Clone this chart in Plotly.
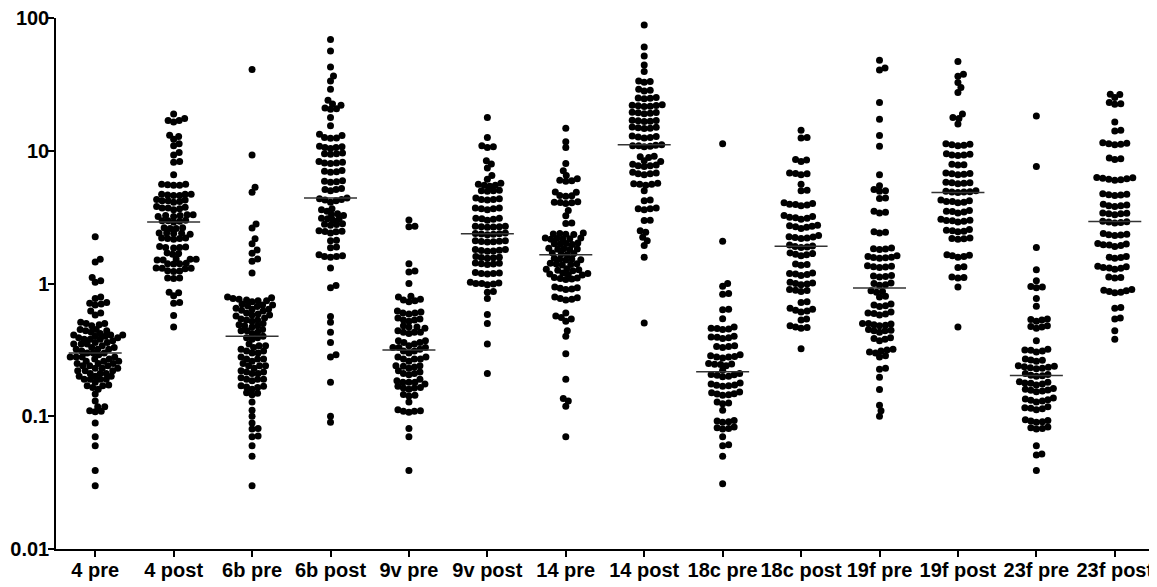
import numpy as np
import plotly.graph_objects as go

categories = ["4 pre", "4 post", "6b pre", "6b post", "9v pre", "9v post", "14 pre",
              "14 post", "18c pre", "18c post", "19f pre", "19f post", "23f pre", "23f post"]

y_tick_vals = [0.01, 0.1, 1, 10, 100]
y_tick_text = ["0.01", "0.1", "1", "10", "100"]

pre_4 = [2.25, 1.52, 1.45, 1.11, 1.05, 1.02, 0.79, 0.77, 0.72, 0.70, 0.69, 0.71, 0.62, 0.60, 0.58,
         0.50, 0.49, 0.50, 0.48, 0.51, 0.45, 0.44, 0.44, 0.43, 0.45, 0.41, 0.40, 0.41, 0.42, 0.40, 0.41,
         0.38, 0.39, 0.38, 0.37, 0.39, 0.38, 0.35, 0.36, 0.35, 0.34, 0.35, 0.36, 0.32, 0.33, 0.32, 0.33,
         0.32, 0.30, 0.30, 0.31, 0.29, 0.30, 0.28, 0.27, 0.28, 0.28, 0.27, 0.28, 0.26, 0.25, 0.26, 0.25,
         0.26, 0.25, 0.24, 0.23, 0.24, 0.24, 0.23, 0.22, 0.22, 0.23, 0.22, 0.21, 0.20, 0.21, 0.20, 0.20,
         0.21, 0.19, 0.19, 0.18, 0.19, 0.19, 0.17, 0.165, 0.172, 0.16, 0.17, 0.147, 0.13, 0.118, 0.118,
         0.109, 0.11, 0.108, 0.089, 0.07, 0.06, 0.039, 0.03]

post_4 = [18.9, 17.5, 16.9, 16.5, 16.9, 13.1, 12.2, 12.8, 10.9, 11.3, 9.7, 9.3, 8.2, 8.3, 6.6,
          5.6, 5.5, 5.55, 5.5, 5.6, 4.7, 4.6, 4.7, 4.65, 4.7, 4.6, 4.2, 4.25, 4.15, 4.2, 4.3, 4.1,
          3.7, 3.75, 3.65, 3.8, 3.6, 3.7, 3.25, 3.3, 3.2, 3.25, 3.3, 3.2, 2.97, 2.95, 3.0, 2.9, 2.97,
          2.63, 2.6, 2.6, 2.63, 2.39, 2.4, 2.35, 2.4, 2.38, 2.18, 2.2, 2.15, 2.2, 2.18,
          1.87, 1.9, 1.85, 1.87, 1.88, 1.68, 1.7, 1.66, 1.52, 1.5, 1.53, 1.52, 1.5, 1.41, 1.4, 1.42, 1.41,
          1.3, 1.31, 1.29, 1.3, 1.24, 1.23, 1.25, 1.1, 1.1, 1.09, 0.86, 0.85, 0.81, 0.71, 0.72, 0.575, 0.47]

pre_6b = [41.0, 9.3, 5.3, 4.86, 2.81, 2.62, 2.17, 1.99, 1.79, 1.69, 1.53, 1.47, 1.2,
          0.78, 0.77, 0.79, 0.74, 0.75, 0.73, 0.74, 0.76, 0.69, 0.70, 0.68, 0.69, 0.67,
          0.64, 0.63, 0.65, 0.64, 0.62, 0.58, 0.59, 0.57, 0.58, 0.60, 0.53, 0.54, 0.52, 0.53, 0.55,
          0.48, 0.49, 0.47, 0.48, 0.50, 0.44, 0.45, 0.43, 0.44, 0.42,
          0.39, 0.40, 0.38, 0.39, 0.34, 0.35, 0.33, 0.34, 0.31, 0.32, 0.30, 0.31, 0.30,
          0.27, 0.28, 0.27, 0.26, 0.27, 0.24, 0.25, 0.24, 0.23, 0.24, 0.215, 0.22, 0.21, 0.215, 0.21,
          0.19, 0.195, 0.185, 0.19, 0.19, 0.166, 0.17, 0.16, 0.165, 0.168, 0.149, 0.15, 0.145,
          0.128, 0.111, 0.10, 0.089, 0.081, 0.080, 0.07, 0.071, 0.06, 0.05, 0.03]

post_6b = [69, 56.5, 42.8, 36.6, 33.6, 29.1, 24.0, 22.0, 22.5, 20.7, 20.5, 21.0, 17.8, 15.4,
           13.3, 12.6, 12.4, 12.5, 13.0, 10.6, 10.8, 10.4, 10.6, 10.7, 9.5, 9.6, 9.4, 9.5,
           8.1, 8.2, 8.0, 8.1, 8.3, 6.95, 7.0, 6.9, 7.1, 5.85, 5.9, 5.8, 5.95, 5.1, 5.2, 5.0, 5.1,
           4.3, 4.35, 4.25, 4.2, 4.4, 4.1, 3.66, 3.6, 3.5, 3.3, 3.35, 3.25, 3.08, 3.1, 3.05, 3.0,
           2.78, 2.8, 2.75, 2.82, 2.46, 2.5, 2.45, 2.4, 2.48, 2.1, 2.12, 1.86, 1.88,
           1.6, 1.62, 1.58, 1.6, 1.65, 1.31, 0.966, 0.93,
           0.565, 0.51, 0.43, 0.36, 0.28, 0.29, 0.18, 0.09, 0.1]

pre_9v = [3.01, 2.68, 2.7, 1.41, 1.22, 1.24, 1.0, 0.80, 0.79, 0.75, 0.74, 0.76, 0.73,
          0.60, 0.61, 0.59, 0.60, 0.62, 0.53, 0.54, 0.52, 0.53, 0.55, 0.47, 0.48, 0.46, 0.47,
          0.43, 0.44, 0.42, 0.43, 0.43, 0.36, 0.37, 0.35, 0.36, 0.37, 0.33, 0.34, 0.32, 0.33, 0.33,
          0.31, 0.31, 0.30,
          0.27, 0.28, 0.27, 0.26, 0.27, 0.28, 0.238, 0.24, 0.235, 0.24, 0.23, 0.21, 0.215, 0.205, 0.21, 0.22,
          0.18, 0.185, 0.175, 0.18, 0.18, 0.19, 0.163, 0.165, 0.16, 0.163, 0.168, 0.144, 0.146, 0.142,
          0.128, 0.109, 0.11, 0.107, 0.109, 0.112, 0.081, 0.07, 0.039]

post_9v = [17.8, 12.6, 10.6, 10.7, 10.9, 8.4, 7.95, 7.4, 6.5, 6.1, 5.7, 5.5, 5.6, 5.4, 5.5,
           5.0, 5.05, 4.95, 5.0, 4.3, 4.35, 4.25, 4.3, 4.4, 3.66, 3.7, 3.6, 3.65, 3.7,
           3.08, 3.1, 3.05, 3.1, 3.0, 2.68, 2.7, 2.65, 2.7, 2.68, 2.66, 2.37, 2.4, 2.35, 2.38, 2.36, 2.33,
           2.07, 2.1, 2.05, 2.08, 2.06, 2.1, 1.77, 1.8, 1.75, 1.78, 1.76, 1.8, 1.57, 1.6, 1.55, 1.58, 1.56,
           1.41, 1.43, 1.4, 1.42, 1.39, 1.19, 1.2, 1.18, 1.21, 1.19, 1.0, 1.02, 0.99, 1.01, 0.98, 1.0,
           0.86, 0.87, 0.77, 0.585, 0.50, 0.35, 0.21]

pre_14 = [14.8, 11.7, 10.6, 8.03, 7.07, 6.5, 5.95, 6.0, 5.9, 6.15, 4.86, 4.9, 4.58, 4.6, 4.55,
          4.08, 4.1, 4.05, 4.12, 4.0, 3.54, 3.24, 2.83, 2.85,
          2.36, 2.38, 2.34, 2.4, 2.35, 2.17, 2.2, 2.15, 2.18, 2.16, 2.2, 1.99, 2.0, 1.98, 2.02, 1.97,
          1.82, 1.84, 1.8, 1.83, 1.81, 1.67, 1.7, 1.65, 1.68,
          1.52, 1.55, 1.5, 1.53, 1.51, 1.4, 1.42, 1.38, 1.41, 1.39, 1.27, 1.29, 1.25, 1.28, 1.26,
          1.18, 1.2, 1.16, 1.19, 1.17, 1.09, 1.1, 1.08, 1.11, 1.07,
          0.92, 0.93, 0.91, 0.94, 0.9, 0.77, 0.78, 0.76, 0.79, 0.75,
          0.6, 0.57, 0.555, 0.54, 0.52, 0.44, 0.40, 0.296, 0.19, 0.136, 0.13, 0.119, 0.07]

post_14 = [88.6, 60.5, 51.8, 44.3, 39.5, 33.2, 33.5, 32.8, 28.6, 29.0, 28.2, 24.9, 25.2, 24.6, 25.0,
           21.8, 22.0, 21.5, 21.9, 22.2, 21.6, 19.3, 19.5, 19.0, 19.4, 19.2, 16.8, 17.0, 16.6, 16.9, 16.7,
           14.9, 15.1, 14.7, 15.0, 14.8, 12.7, 12.9, 12.5, 12.8, 12.6, 10.9, 11.0, 10.8, 11.1, 10.7, 10.9,
           9.0, 9.1, 8.9, 8.3, 8.4, 7.7, 7.8, 7.6, 7.7, 7.9, 6.7, 6.8, 6.6, 6.7, 6.9, 5.6, 5.7, 5.5, 5.6, 5.65,
           5.0, 4.2, 4.25, 3.66, 3.7, 3.6, 3.65, 2.98, 3.0, 2.43, 2.5, 2.23, 2.1, 1.93, 1.58, 0.503]

pre_18c = [11.3, 2.08, 1.0, 0.955, 0.83, 0.84, 0.634, 0.64, 0.543,
           0.459, 0.47, 0.45, 0.46, 0.455, 0.393, 0.4, 0.39, 0.385, 0.395, 0.336, 0.34, 0.33, 0.335,
           0.282, 0.29, 0.28, 0.275, 0.285, 0.28, 0.246, 0.25, 0.24, 0.245, 0.248, 0.222,
           0.204, 0.21, 0.2, 0.205, 0.198, 0.206, 0.171, 0.175, 0.168, 0.172, 0.17, 0.178,
           0.147, 0.15, 0.145, 0.148, 0.144, 0.152, 0.126, 0.128, 0.124, 0.111,
           0.091, 0.092, 0.09, 0.093, 0.081, 0.082, 0.08, 0.083, 0.07, 0.06, 0.061, 0.05, 0.031]

post_18c = [14.3, 12.5, 12.6, 8.6, 8.3, 8.5, 6.7, 6.8, 6.6, 6.75, 5.6, 5.0, 5.05,
            3.93, 4.0, 3.9, 3.95, 3.85, 4.05, 3.13, 3.2, 3.1, 3.15, 3.05, 3.25,
            2.68, 2.7, 2.65, 2.72, 2.6, 2.75, 2.22, 2.25, 2.2, 2.3, 2.18, 2.24,
            1.9, 1.92, 1.88, 1.95, 1.87, 1.65, 1.68, 1.62, 1.66, 1.7, 1.39, 1.4, 1.37,
            1.17, 1.19, 1.15, 1.18, 1.2, 1.0, 1.02, 0.98, 1.01, 0.99, 0.886, 0.9, 0.87, 0.89,
            0.72, 0.73, 0.63, 0.64, 0.62, 0.65, 0.61, 0.53, 0.54, 0.467, 0.47, 0.46, 0.48, 0.323]

pre_19f = [48, 40.6, 42, 23.1, 17.3, 13, 10.8, 6.6, 5.46, 5.0, 5.1, 4.95, 4.36, 4.4, 3.44, 3.5, 3.4,
           2.43, 2.45, 2.4, 1.83, 1.85, 1.8, 1.82, 1.57, 1.6, 1.55, 1.58, 1.56, 1.62,
           1.34, 1.36, 1.32, 1.35, 1.33, 1.13, 1.15, 1.12, 1.14, 1.0, 0.98, 1.01, 0.97,
           0.87, 0.88, 0.86, 0.79, 0.8, 0.68, 0.69, 0.67, 0.7, 0.595, 0.6, 0.59, 0.61, 0.58,
           0.49, 0.5, 0.48, 0.495, 0.485, 0.5, 0.44, 0.45, 0.43, 0.44, 0.445, 0.38, 0.39, 0.37, 0.385,
           0.31, 0.32, 0.3, 0.315, 0.305, 0.28, 0.285, 0.226, 0.23, 0.197, 0.159, 0.121, 0.11, 0.1]

post_19f = [47, 37.7, 36.4, 32.6, 29.9, 27.5, 18.9, 17.8, 17.5, 15.9,
            11.1, 11.3, 10.9, 11.2, 11.0, 9.3, 9.4, 9.2, 9.5, 9.3, 7.85, 7.9, 7.8,
            6.7, 6.8, 6.6, 6.75, 6.65, 5.74, 5.8, 5.7, 5.75, 5.65, 4.92, 5.0, 4.85, 4.95, 4.9, 4.88,
            4.14, 4.2, 4.1, 4.15, 4.05, 4.25, 3.48, 3.5, 3.45, 3.55, 3.4, 2.97, 3.0, 2.95, 3.05, 2.9, 2.98,
            2.5, 2.55, 2.45, 2.52, 2.48, 2.17, 2.2, 2.15, 2.18, 1.62, 1.65, 1.6, 1.63, 1.58, 1.32, 1.34,
            1.11, 1.12, 1.1, 0.94, 0.47]

pre_23f = [18.3, 7.6, 1.87, 1.27, 1.05, 0.94, 0.95, 0.93, 0.77, 0.675,
           0.53, 0.54, 0.52, 0.535, 0.47, 0.48, 0.46, 0.475, 0.37, 0.314, 0.32, 0.31, 0.315, 0.305,
           0.264, 0.27, 0.26, 0.265, 0.234, 0.24, 0.23, 0.236, 0.232, 0.238, 0.228,
           0.204, 0.21, 0.2, 0.206, 0.202, 0.177, 0.18, 0.175, 0.178, 0.172, 0.182,
           0.157, 0.16, 0.155, 0.158, 0.153, 0.162, 0.132, 0.135, 0.13, 0.133, 0.128, 0.137,
           0.115, 0.118, 0.112, 0.116, 0.114, 0.092, 0.094, 0.09, 0.093, 0.091, 0.081, 0.083, 0.08, 0.082,
           0.06, 0.051, 0.052, 0.039]

post_23f = [26.7, 26.5, 25.2, 22.4, 22.6, 23.1, 16.5, 14.1, 14.3, 11.3, 11.5, 11.1, 11.4, 11.2, 8.7, 8.8, 8.6,
            6.15, 6.2, 6.1, 6.3, 6.0, 6.25, 6.05, 4.67, 4.7, 4.6, 4.75, 4.65, 3.86, 3.9, 3.8, 3.95, 3.85,
            3.36, 3.4, 3.3, 3.38, 3.35, 2.95, 2.9, 2.85, 2.92, 2.88, 2.33, 2.35, 2.3, 2.38, 2.32,
            1.96, 2.0, 1.93, 1.98, 1.95, 1.9, 1.57, 1.6, 1.55, 1.58, 1.32, 1.35, 1.3, 1.34, 1.31, 1.28,
            1.11, 1.12, 1.1, 0.87, 0.88, 0.86, 0.9, 0.85, 0.89, 0.65, 0.66, 0.54, 0.55, 0.44, 0.38]

groups = [pre_4, post_4, pre_6b, post_6b, pre_9v, post_9v, pre_14, post_14,
          pre_18c, post_18c, pre_19f, post_19f, pre_23f, post_23f]

# ---- layout geometry ----
# the page body has an 8px default margin, so the figure is drawn 8px smaller
PAGE_OFF = 8
W, H = 1157 - PAGE_OFF, 587 - PAGE_OFF
ML, MR, MT, MB = 56 - PAGE_OFF, 3, 18 - PAGE_OFF, 38
plot_w = W - ML - MR
plot_h = H - MT - MB
px_per_cat = plot_w / len(categories)
px_per_dec = plot_h / 4.0
DOT = 7
COLLIDE = 5.6


def swarm(vals):
    """Greedy beeswarm: horizontal pixel offsets so dots do not overlap too much."""
    ys = np.log10(np.asarray(vals, dtype=float)) * px_per_dec
    order = np.argsort(ys)
    placed_x, placed_y = [], []
    offs = np.zeros(len(ys))
    for i in order:
        y = ys[i]
        px = np.array(placed_x)
        py = np.array(placed_y)
        if len(py):
            near = np.abs(py - y) < COLLIDE
            nx, ny = px[near], py[near]
        else:
            nx, ny = px, py
        chosen = 0.0
        for k in range(0, 400):
            found = False
            for s in ([0] if k == 0 else [1, -1]):
                x = s * k * 0.5
                if len(nx) == 0 or np.all((nx - x) ** 2 + (ny - y) ** 2 >= COLLIDE ** 2 - 1e-9):
                    chosen = x
                    found = True
                    break
            if found:
                break
        offs[i] = chosen
        placed_x.append(chosen)
        placed_y.append(y)
    return offs / px_per_cat


fig = go.Figure()

all_x, all_y = [], []
for i, vals in enumerate(groups):
    off = swarm(vals)
    all_x.extend((i + off).tolist())
    all_y.extend(vals)

fig.add_trace(go.Scatter(
    x=all_x, y=all_y, mode="markers",
    marker=dict(size=DOT, color="black", line=dict(width=0)),
    hoverinfo="y", showlegend=False,
))

half = 26.5 / px_per_cat
mx, my = [], []
for i, vals in enumerate(groups):
    m = float(np.median(vals))
    mx += [i - half, i + half, None]
    my += [m, m, None]

fig.add_trace(go.Scatter(
    x=mx, y=my, mode="lines",
    line=dict(color="#333333", width=1.5),
    hoverinfo="skip", showlegend=False,
))

tickfont = dict(family="Liberation Sans, Arial, sans-serif", size=20, color="black", weight="bold")

fig.update_layout(
    width=W, height=H,
    margin=dict(l=ML, r=MR, t=MT, b=MB, autoexpand=False),
    plot_bgcolor="white", paper_bgcolor="white",
    showlegend=False,
    xaxis=dict(
        range=[-0.5, len(categories) - 0.5],
        tickmode="array", tickvals=list(range(len(categories))), ticktext=categories,
        ticks="outside", ticklen=6, tickwidth=1.5, tickcolor="black",
        showline=True, linecolor="black", linewidth=1.5,
        showgrid=False, zeroline=False, tickfont=tickfont,
        ticklabeloverflow="allow", ticklabelstandoff=-4,
    ),
    yaxis=dict(
        type="log", range=[-2, 2],
        tickmode="array", tickvals=y_tick_vals, ticktext=y_tick_text,
        ticks="outside", ticklen=6, tickwidth=1.5, tickcolor="black",
        showline=True, linecolor="black", linewidth=1.5,
        showgrid=False, zeroline=False, tickfont=tickfont,
        ticklabeloverflow="allow", ticklabelstandoff=-5,
    ),
)

fig.write_html("out.html")
